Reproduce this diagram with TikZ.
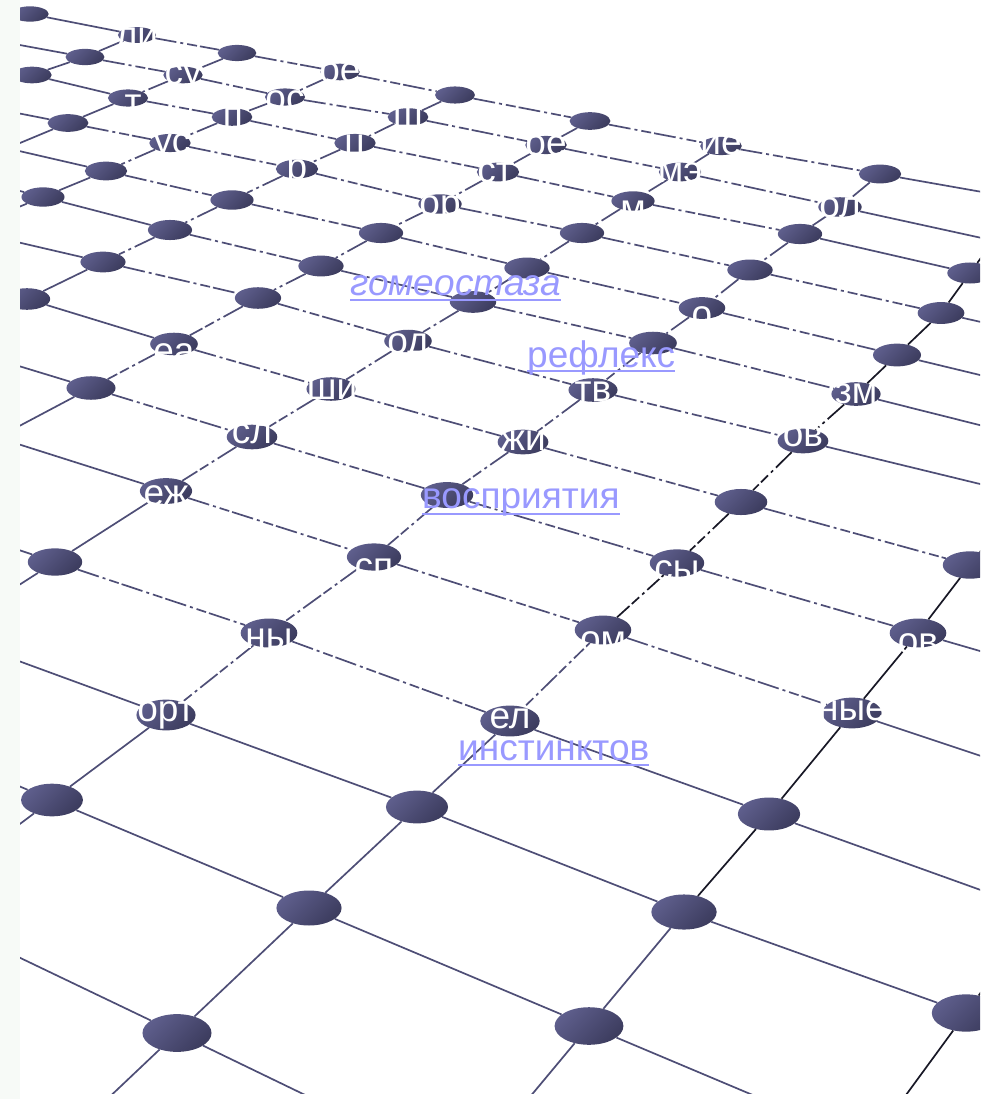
\documentclass[tikz,border=0pt]{standalone}
\usepackage{fontspec}
\setmainfont{Liberation Sans}
\usetikzlibrary{shapes.geometric,calc}

\definecolor{knottop}{RGB}{94,94,140}
\definecolor{knotbot}{RGB}{60,60,94}
\definecolor{wirecol}{RGB}{78,78,118}
\definecolor{wiredark}{RGB}{24,24,38}
\definecolor{linkcol}{RGB}{153,153,255}
\definecolor{paleside}{RGB}{247,250,247}

\newcommand{\bigtext}{\fontsize{37}{42}\selectfont}
% ellipse knot, size grows with depth
\newcommand{\gridknot}[3]{%
  \pgfmathsetmacro{\knotw}{37+0.031*#3}%
  \pgfmathsetmacro{\knoth}{15+0.022*#3}%
  \node[knot, minimum width=\knotw pt, minimum height=\knoth pt] (#1) at (#2,#3) {};}

\begin{document}
\begin{tikzpicture}[x=1pt, y=-1pt,
  knot/.style={ellipse, inner sep=0pt, top color=knottop, bottom color=knotbot, shading angle=45},
  wire/.style={draw=wirecol, line width=1.7pt},
  darkwire/.style={draw=wiredark, line width=1.7pt},
  gapped/.style={dash pattern=on 22pt off 4pt on 3pt off 4pt on 10pt off 3pt},
  frag/.style={text=white, font=\bigtext, inner sep=0pt, anchor=base, text height=19pt, text depth=0pt},
  link/.style={text=linkcol, font=\bigtext, inner sep=0pt, anchor=base west},
  linkline/.style={draw=linkcol, line width=2.8pt}]
\useasboundingbox (0,0) rectangle (980,1099);
\fill[paleside] (0,0) rectangle (20,1099);

\begin{scope}
\clip (20,0) rectangle (980,1093);

% knots, column by column
\gridknot{c0r1}{30}{14}
\gridknot{c1r1}{137}{35}
\gridknot{c1r2}{85}{57}
\gridknot{c1r3}{32}{75}
\gridknot{c2r1}{237}{53}
\gridknot{c2r2}{183}{75}
\gridknot{c2r3}{128}{98}
\gridknot{c2r4}{68}{123}
\gridknot{c3r1}{340}{72}
\gridknot{c3r2}{285}{97}
\gridknot{c3r3}{232}{117}
\gridknot{c3r4}{170}{143}
\gridknot{c3r5}{106}{171}
\gridknot{c3r6}{43}{197}
\gridknot{c4r1}{455}{95}
\gridknot{c4r2}{408}{117}
\gridknot{c4r3}{355}{143}
\gridknot{c4r4}{297}{169}
\gridknot{c4r5}{232}{200}
\gridknot{c4r6}{170}{230}
\gridknot{c4r7}{103}{262}
\gridknot{c4r8}{27}{299}
\gridknot{c5r1}{590}{121}
\gridknot{c5r2}{546}{145}
\gridknot{c5r3}{498}{172}
\gridknot{c5r4}{440}{204}
\gridknot{c5r5}{381}{233}
\gridknot{c5r6}{321}{266}
\gridknot{c5r7}{258}{298}
\gridknot{c5r8}{174}{344}
\gridknot{c5r9}{91}{388}
\gridknot{c6r1}{721}{146}
\gridknot{c6r2}{680}{172}
\gridknot{c6r3}{633}{201}
\gridknot{c6r4}{582}{233}
\gridknot{c6r5}{527}{268}
\gridknot{c6r6}{473}{302}
\gridknot{c6r7}{408}{341}
\gridknot{c6r8}{331}{389}
\gridknot{c6r9}{252}{437}
\gridknot{c6r10}{166}{491}
\gridknot{c6r11}{55}{562}
\gridknot{c7r1}{880}{174}
\gridknot{c7r2}{840}{207}
\gridknot{c7r3}{800}{234}
\gridknot{c7r4}{750}{270}
\gridknot{c7r5}{702}{308}
\gridknot{c7r6}{653}{343}
\gridknot{c7r7}{593}{390}
\gridknot{c7r8}{523}{442}
\gridknot{c7r9}{447}{495}
\gridknot{c7r10}{374}{557}
\gridknot{c7r11}{269}{633}
\gridknot{c7r12}{166}{715}
\gridknot{c7r13}{52}{800}
\gridknot{c8r3}{970}{273}
\gridknot{c8r4}{941}{313}
\gridknot{c8r5}{897}{355}
\gridknot{c8r6}{856}{394}
\gridknot{c8r7}{803}{441}
\gridknot{c8r8}{741}{502}
\gridknot{c8r9}{677}{563}
\gridknot{c8r10}{603}{630}
\gridknot{c8r11}{510}{721}
\gridknot{c8r12}{417}{807}
\gridknot{c8r13}{309}{908}
\gridknot{c8r14}{177}{1033}
\gridknot{c9r8}{970}{565}
\gridknot{c9r9}{918}{633}
\gridknot{c9r10}{852}{713}
\gridknot{c9r11}{769}{814}
\gridknot{c9r12}{684}{912}
\gridknot{c9r13}{589}{1026}
\gridknot{c10r12}{966}{1013}

% free ends beyond the edges
\coordinate (r1e) at ($(c6r1)!3!(c7r1)$);
\coordinate (r2w) at ($(c2r2)!3!(c1r2)$);
\coordinate (r2e) at ($(c6r2)!3!(c7r2)$);
\coordinate (r3w) at ($(c2r3)!3!(c1r3)$);
\coordinate (r3e) at ($(c7r3)!3!(c8r3)$);
\coordinate (r4w) at ($(c3r4)!3!(c2r4)$);
\coordinate (r4e) at ($(c7r4)!3!(c8r4)$);
\coordinate (r5w) at ($(c4r5)!3!(c3r5)$);
\coordinate (r5e) at ($(c7r5)!3!(c8r5)$);
\coordinate (r6w) at ($(c4r6)!3!(c3r6)$);
\coordinate (r6e) at ($(c7r6)!3!(c8r6)$);
\coordinate (r7w) at ($(c5r7)!3!(c4r7)$);
\coordinate (r7e) at ($(c7r7)!3!(c8r7)$);
\coordinate (r8w) at ($(c5r8)!3!(c4r8)$);
\coordinate (r8e) at ($(c8r8)!3!(c9r8)$);
\coordinate (r9w) at ($(c6r9)!3!(c5r9)$);
\coordinate (r9e) at ($(c8r9)!3!(c9r9)$);
\coordinate (r10w) at ($(c7r10)!3!(c6r10)$);
\coordinate (r10e) at ($(c8r10)!3!(c9r10)$);
\coordinate (r11w) at ($(c7r11)!3!(c6r11)$);
\coordinate (r11e) at ($(c8r11)!3!(c9r11)$);
\coordinate (r12w) at ($(c8r12)!3!(c7r12)$);
\coordinate (r12e) at ($(c9r12)!3!(c10r12)$);
\coordinate (r13w) at ($(c8r13)!3!(c7r13)$);
\coordinate (r13e) at ($(c8r13)!3!(c9r13)$);
\coordinate (r14w) at (10,953);
\coordinate (r14e) at (330,1107);
\coordinate (k1s) at ($(c1r2)!3!(c1r3)$);
\coordinate (k2s) at ($(c2r3)!3!(c2r4)$);
\coordinate (k3s) at ($(c3r5)!3!(c3r6)$);
\coordinate (k4s) at ($(c4r7)!3!(c4r8)$);
\coordinate (k5s) at ($(c5r8)!3!(c5r9)$);
\coordinate (k6s) at ($(c6r10)!3!(c6r11)$);
\coordinate (k7s) at ($(c7r12)!3!(c7r13)$);
\coordinate (k8n) at ($(c8r4)!3!(c8r3)$);
\coordinate (k8s) at ($(c8r13)!3!(c8r14)$);
\coordinate (k9n) at ($(c9r9)!3!(c9r8)$);
\coordinate (k9s) at ($(c9r12)!3!(c9r13)$);
\coordinate (k10n) at (1000,966);
\coordinate (k10s) at (895,1110);

% rows
\draw[wire] (c0r1) -- (c1r1);
\draw[wire,gapped] (c1r1) -- (c2r1) -- (c3r1) -- (c4r1) -- (c5r1) -- (c6r1) -- (c7r1);
\draw[wire] (c7r1) -- (r1e);
\draw[wire] (r2w) -- (c1r2);
\draw[wire,gapped] (c1r2) -- (c2r2) -- (c3r2) -- (c4r2) -- (c5r2) -- (c6r2) -- (c7r2);
\draw[wire] (c7r2) -- (r2e);
\draw[wire] (r3w) -- (c1r3) -- (c2r3);
\draw[wire,gapped] (c2r3) -- (c3r3) -- (c4r3) -- (c5r3) -- (c6r3) -- (c7r3);
\draw[wire] (c7r3) -- (c8r3) -- (r3e);
\draw[wire] (r4w) -- (c2r4);
\draw[wire,gapped] (c2r4) -- (c3r4) -- (c4r4) -- (c5r4) -- (c6r4) -- (c7r4) -- (c8r4);
\draw[wire] (c8r4) -- (r4e);
\draw[wire] (r5w) -- (c3r5);
\draw[wire,gapped] (c3r5) -- (c4r5) -- (c5r5) -- (c6r5) -- (c7r5) -- (c8r5);
\draw[wire] (c8r5) -- (r5e);
\draw[wire] (r6w) -- (c3r6) -- (c4r6);
\draw[wire,gapped] (c4r6) -- (c5r6) -- (c6r6) -- (c7r6) -- (c8r6);
\draw[wire] (c8r6) -- (r6e);
\draw[wire] (r7w) -- (c4r7);
\draw[wire,gapped] (c4r7) -- (c5r7) -- (c6r7) -- (c7r7) -- (c8r7);
\draw[wire] (c8r7) -- (r7e);
\draw[wire] (r8w) -- (c4r8) -- (c5r8);
\draw[wire,gapped] (c5r8) -- (c6r8) -- (c7r8) -- (c8r8) -- (c9r8);
\draw[wire] (c9r8) -- (r8e);
\draw[wire] (r9w) -- (c5r9);
\draw[wire,gapped] (c5r9) -- (c6r9) -- (c7r9) -- (c8r9) -- (c9r9);
\draw[wire] (c9r9) -- (r9e);
\draw[wire] (r10w) -- (c6r10);
\draw[wire,gapped] (c6r10) -- (c7r10) -- (c8r10) -- (c9r10);
\draw[wire] (c9r10) -- (r10e);
\draw[wire] (r11w) -- (c6r11);
\draw[wire,gapped] (c6r11) -- (c7r11) -- (c8r11);
\draw[wire] (c8r11) -- (c9r11) -- (r11e);
\draw[wire] (r12w) -- (c7r12) -- (c8r12) -- (c9r12) -- (c10r12) -- (r12e);
\draw[wire] (r13w) -- (c7r13) -- (c8r13) -- (c9r13) -- (r13e);
\draw[wire] (r14w) -- (c8r14) -- (r14e);

% columns
\draw[wire] (c1r1) -- (c1r2) -- (c1r3) -- (k1s);
\draw[wire,gapped] (c2r1) -- (c2r2) -- (c2r3);
\draw[wire] (c2r3) -- (c2r4) -- (k2s);
\draw[wire,gapped] (c3r1) -- (c3r2) -- (c3r3) -- (c3r4) -- (c3r5);
\draw[wire] (c3r5) -- (c3r6) -- (k3s);
\draw[wire,gapped] (c4r1) -- (c4r2) -- (c4r3) -- (c4r4) -- (c4r5) -- (c4r6) -- (c4r7);
\draw[wire] (c4r7) -- (c4r8) -- (k4s);
\draw[wire,gapped] (c5r1) -- (c5r2) -- (c5r3) -- (c5r4) -- (c5r5) -- (c5r6) -- (c5r7) -- (c5r8) -- (c5r9);
\draw[wire] (c5r9) -- (k5s);
\draw[wire,gapped] (c6r1) -- (c6r2) -- (c6r3) -- (c6r4) -- (c6r5) -- (c6r6) -- (c6r7) -- (c6r8) -- (c6r9) -- (c6r10);
\draw[wire] (c6r10) -- (c6r11) -- (k6s);
\draw[wire,gapped] (c7r1) -- (c7r2) -- (c7r3) -- (c7r4) -- (c7r5) -- (c7r6) -- (c7r7) -- (c7r8) -- (c7r9) -- (c7r10) -- (c7r11) -- (c7r12);
\draw[wire] (c7r12) -- (c7r13) -- (k7s);
\draw[darkwire] (k8n) -- (c8r3) -- (c8r4) -- (c8r5) -- (c8r6);
\draw[darkwire,gapped] (c8r6) -- (c8r7) -- (c8r8) -- (c8r9) -- (c8r10);
\draw[wire,gapped] (c8r10) -- (c8r11);
\draw[wire] (c8r11) -- (c8r12) -- (c8r13) -- (c8r14) -- (k8s);
\draw[darkwire] (k9n) -- (c9r8) -- (c9r9) -- (c9r10) -- (c9r11) -- (c9r12);
\draw[wire] (c9r12) -- (c9r13) -- (k9s);
\draw[darkwire] (k10n) -- (c10r12) -- (k10s);

% white words, seen only on the knots
\node[frag] (f1) at (137,48) {ли};
\node[frag] (f2) at (183,85) {су};
\node[frag] (f3) at (340,83) {ое};
\node[frag] (f4) at (133,115) {т};
\node[frag] (f5) at (285,111) {ос};
\node[frag] (f6) at (233,128) {п};
\node[frag] (f7) at (408,128) {ш};
\node[frag] (f8) at (172,154) {ус};
\node[frag] (f9) at (355,155) {ц};
\node[frag] (f10) at (546,156) {ое};
\node[frag] (f11) at (721,155) {ие};
\node[frag] (f12) at (297,180) {р};
\node[frag] (f13) at (495,183) {ст};
\node[frag] (f14) at (680,183) {мэ};
\node[frag] (f15) at (440,216) {ор};
\node[frag] (f16) at (840,218) {ол};
\node[frag] (f17) at (633,221) {м};
\node[frag] (f18) at (702,326) {о};
\node[frag] (f19) at (174,363) {еа};
\node[frag] (f20) at (408,353) {од};
\node[frag] (f21) at (332,399) {ши};
\node[frag] (f22) at (593,401) {тв};
\node[frag] (f23) at (856,403) {зм};
\node[frag] (f24) at (252,443) {сл};
\node[frag] (f25) at (523,450) {жи};
\node[frag] (f26) at (803,446) {ов};
\node[frag] (f27) at (166,505) {еж};
\node[frag] (f28) at (374,578) {сп};
\node[frag] (f29) at (677,580) {сы};
\node[frag] (f30) at (269,648) {ны};
\node[frag] (f31) at (603,651) {ом};
\node[frag] (f32) at (918,653) {ов};
\node[frag] (f33) at (166,721) {орт};
\node[frag] (f34) at (510,728) {ел};
\node[frag] (f35) at (852,720) {ные};

% links
\node[link, font=\bigtext\itshape] (gomeo) at (350,295) {гомеостаза};
\node[link] (reflex) at (527,367) {рефлекс};
\node[link] (percept) at (422,508) {восприятия};
\node[link] (instinct) at (458,760) {инстинктов};
\draw[linkline] ([yshift=-5pt]gomeo.base west) -- ([yshift=-5pt]gomeo.base east);
\draw[linkline] ([yshift=-4pt]reflex.base west) -- ([yshift=-4pt]reflex.base east);
\draw[linkline] ([yshift=-6pt]percept.base west) -- ([yshift=-6pt]percept.base east);
\draw[linkline] ([yshift=-5pt]instinct.base west) -- ([yshift=-5pt]instinct.base east);
\end{scope}
\end{tikzpicture}
\end{document}
